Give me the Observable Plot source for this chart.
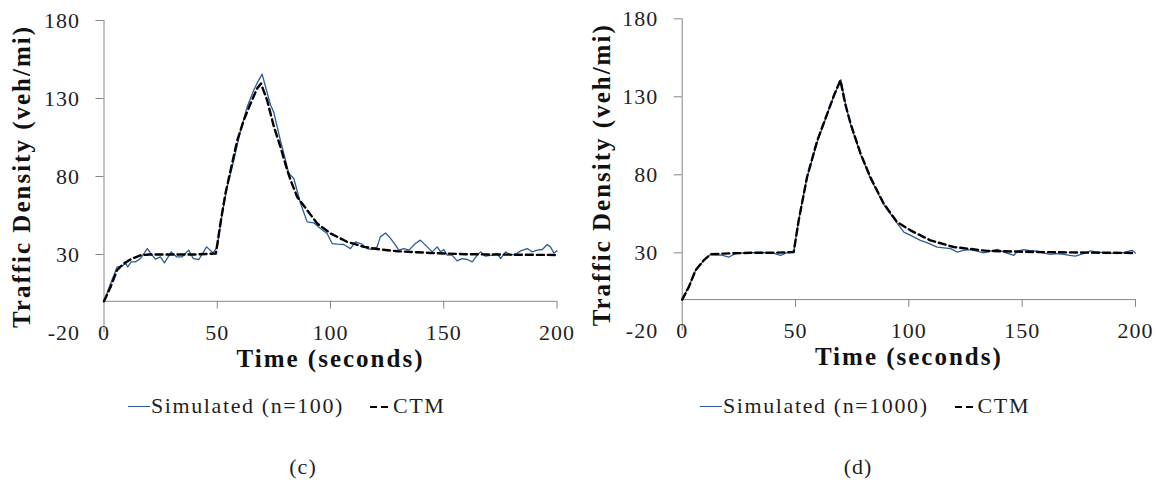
<!DOCTYPE html>
<html>
<head>
<meta charset="utf-8">
<script src="https://cdn.jsdelivr.net/npm/d3@7"></script>
<script src="https://cdn.jsdelivr.net/npm/@observablehq/plot@0.6"></script>
</head>
<body style="margin:0;padding:0;background:#fff">
<div id="root" style="position:relative;width:1163px;height:487px;overflow:hidden;background:#fff;color:#1f1f1f"></div>
<script>
// ---------- data ----------
const xTicks = [0, 50, 100, 150, 200];
const yTicks = [-20, 30, 80, 130, 180];
const xDomain = [0, 200];
const yDomain = [-20, 180];
const xTitle = "Time (seconds)";
const yTitle = "Traffic Density (veh/mi)";
const seriesNamesC = ["Simulated (n=100)", "CTM"];
const seriesNamesD = ["Simulated (n=1000)", "CTM"];
const captions = ["(c)", "(d)"];

// Panel (c): simulated n=100
const simC_t = [0, 2.9, 5.8, 8, 9.5, 10.5, 12, 13.9, 16.1, 19.1, 20.5, 22.7, 24.9, 26.7, 29.7, 32, 34.5, 37.4, 39.4, 41.9, 45.3, 48.2, 50, 52.2, 54.4, 57.3, 60.3, 63.2, 66.1, 68, 69.8, 73.5, 75, 77.9, 79.4, 81.6, 83.8, 86.8, 89.7, 92.6, 95.6, 98.5, 100.7, 103, 105.9, 108.8, 111, 114, 116.2, 118.4, 120.6, 122, 124.3, 126.5, 128.7, 130.1, 132.4, 134.6, 137.5, 139.7, 141.9, 144.9, 147.1, 148.6, 150, 151.5, 153.7, 155.9, 158.1, 160.4, 162.6, 164.8, 166.2, 168.4, 171.4, 173.6, 175.1, 177.3, 179.5, 181.7, 183.9, 186.9, 189.1, 191.3, 193.5, 195.7, 197.1, 198.6, 200];
const simC_v = [0, 11.4, 22, 22.5, 24.6, 22, 25.3, 25.3, 27.4, 33.8, 31, 27, 28.5, 24.6, 31.7, 28.5, 28.5, 32.8, 27.4, 26.8, 34.9, 31, 34.9, 56.3, 73.3, 90.4, 109.7, 124.6, 135.3, 141, 145.6, 126, 121, 103, 94.7, 81.9, 78.7, 62.7, 50.9, 50.3, 46.7, 43.5, 37, 36.6, 36.4, 33.8, 38.1, 36.6, 33.8, 33.2, 34.9, 41.3, 43.8, 40.3, 36, 32.8, 33.8, 32.8, 37, 39.2, 36, 31.7, 34.9, 31.7, 33.2, 29.6, 29.6, 25.9, 27.4, 26.8, 25.3, 29.6, 31.7, 28.9, 29.6, 30.6, 27.4, 31.7, 29.6, 30.2, 32.3, 33.8, 31.7, 32.8, 33.2, 36.4, 34.9, 31, 32.3];

// Panel (c): CTM
const ctmC_t = [0, 2.9, 5.8, 8.7, 12.4, 16.1, 20, 30, 40, 49.4, 51.4, 53.6, 55.9, 58.8, 61.7, 64.7, 67.6, 69.3, 72, 75, 77.9, 80.9, 82.4, 85.3, 89.7, 94.1, 100, 107.4, 114.7, 122, 129.5, 144, 159, 180, 200];
const ctmC_v = [0, 9.2, 20, 24.2, 27.4, 29.5, 30, 30, 30, 30.6, 49.9, 69, 84, 103, 116, 126.8, 136.4, 139.6, 129, 112, 99, 84, 77.6, 66.9, 58.4, 49.9, 43.5, 38.1, 34.9, 33.2, 32.1, 31, 30.2, 29.9, 29.7];

// Panel (d): simulated n=1000
const simD_t = [0, 3, 6, 9.5, 12.5, 15, 17, 20.6, 23.5, 28, 35, 40, 43.4, 46, 49.2, 51.4, 55, 59.6, 64, 67, 70, 72, 74.3, 78.7, 83.1, 88.9, 94.8, 97.8, 101, 105.1, 108, 112.5, 118.4, 121.3, 124, 127.2, 133.1, 136, 139, 142, 146.3, 148, 150.7, 153, 156.6, 159, 162.5, 165, 168.4, 171, 173.5, 177, 180.1, 183, 186, 189, 191.9, 195, 198.5, 200];
const simD_v = [0, 8.5, 19, 25, 29, 28.5, 28.6, 27.3, 29.5, 30, 30.2, 29.8, 28.4, 30, 30.8, 51, 78, 101, 119, 131, 141, 126, 112, 93, 77.5, 61, 49, 43.3, 41, 38, 36.5, 33.7, 32.7, 30.5, 31.5, 32, 29.9, 31, 32.2, 30.5, 28.4, 31, 32, 31.5, 31, 30, 29, 29.5, 29, 28.3, 27.9, 29.5, 31.2, 30.5, 30.1, 29.8, 29.5, 30.2, 31.6, 29.9];

// Panel (d): CTM
const ctmD_t = [0, 2.9, 5.9, 9.5, 12.5, 18.4, 30, 40, 49.2, 51.4, 55.1, 59.6, 64, 67, 69.8, 72, 74.3, 78.7, 83.1, 88.9, 94.8, 100.7, 109.5, 119.8, 134.6, 156.6, 180, 200];
const ctmD_v = [0, 8, 18.8, 25.2, 29, 29.5, 30, 30, 30.5, 50.8, 78.6, 102, 119.2, 131, 140.6, 125, 112.8, 93.6, 78.2, 61.5, 49.7, 44.4, 38, 33.7, 31.2, 30.5, 30.1, 29.9];

// ---------- styles ----------
const axisColor = "#868686";
const simColor = "#2f5b96";
const ctmColor = "#000000";
const FONT = '"Liberation Serif"';

function rows(ts, vs) { return ts.map((t, i) => ({t, v: vs[i]})); }

function panel(sim, ctm, layout) {
  const svg = Plot.plot({
    width: layout.width,
    height: 370,
    marginLeft: layout.ml,
    marginRight: layout.mr,
    marginTop: layout.mt,
    marginBottom: 370 - layout.mt - 312,
    x: {domain: xDomain, axis: null},
    y: {domain: yDomain},
    marks: [
      Plot.ruleY([0], {x1: xDomain[0], x2: xDomain[1], stroke: axisColor, strokeWidth: 1}),
      Plot.ruleX([0], {y1: yDomain[0], y2: yDomain[1], stroke: axisColor, strokeWidth: 1}),
      Plot.ruleX(xTicks.slice(1), {x: d => d, y1: 0, y2: -5, stroke: axisColor}),
      Plot.axisY({ticks: yTicks.filter(v => v > 0), tickSize: 8, tickFormat: () => "", stroke: axisColor, label: null}),
      Plot.axisY({ticks: yTicks, tickSize: 0, tickPadding: 24, tickFormat: d => String(d), label: null, fontSize: 22, fill: "#1f1f1f", className: "ticklab"}),
      Plot.text(xTicks, {x: d => d, y: yDomain[0], text: d => String(d), lineAnchor: "middle", fontSize: 22, fill: "#1f1f1f", className: "ticklab"}),
      Plot.line(sim, {x: "t", y: "v", stroke: simColor, strokeWidth: 1.3}),
      Plot.line(ctm, {x: "t", y: "v", stroke: ctmColor, strokeWidth: 2.4, strokeDasharray: "7,4"}),
      Plot.text([yTitle], {frameAnchor: "left", textAnchor: "middle", lineAnchor: "middle", rotate: -90, dx: -layout.ml + 21, fontSize: 25, fontWeight: "bold", className: "title", fill: "#111"}),
      Plot.text([xTitle], {frameAnchor: "bottom", textAnchor: "middle", lineAnchor: "middle", dy: 26, fontSize: 25, fontWeight: "bold", className: "title", fill: "#111"})
    ]
  });
  svg.style.display = "block";
  svg.style.overflow = "visible";
  svg.style.background = "white";
  svg.setAttribute("font-family", "Liberation Serif");
  svg.style.fontFamily = FONT;
  svg.querySelectorAll("text").forEach(t => { t.style.fontFamily = FONT; t.style.letterSpacing = "1px"; });
  svg.querySelectorAll("g.title text, text.title").forEach(t => { t.style.letterSpacing = "2px"; });
  return svg;
}

const root = document.getElementById("root");

function addPanel(left, sim, ctm, layout, names, legendLeft, caption, captionX) {
  const div = document.createElement("div");
  div.style.position = "absolute";
  div.style.top = "0px";
  div.style.left = left + "px";
  div.appendChild(panel(sim, ctm, layout));
  root.appendChild(div);

  const lg = document.createElement("div");
  Object.assign(lg.style, {position: "absolute", left: legendLeft + "px", top: "393px", fontFamily: FONT,
    fontSize: "22px", letterSpacing: "1.6px", whiteSpace: "nowrap", lineHeight: "26px", color: "#1f1f1f"});
  const s1 = document.createElement("span");
  Object.assign(s1.style, {display: "inline-block", width: "22px", height: "0px", borderTop: "1.4px solid " + simColor,
    verticalAlign: "middle", position: "relative", top: "-1px", marginRight: "1px"});
  const t1 = document.createElement("span"); t1.textContent = names[0];
  t1.style.fontFamily = FONT;
  const s2 = document.createElement("span");
  Object.assign(s2.style, {display: "inline-block", width: "22px", height: "2px", marginLeft: "26px", marginRight: "1px",
    background: "repeating-linear-gradient(90deg, #000 0 7px, transparent 7px 11px)", verticalAlign: "middle", position: "relative", top: "-1px"});
  const t2 = document.createElement("span"); t2.textContent = names[1];
  t2.style.fontFamily = FONT;
  lg.append(s1, t1, s2, t2);
  root.appendChild(lg);

  const cap = document.createElement("div");
  Object.assign(cap.style, {position: "absolute", left: captionX + "px", top: "454px", fontFamily: FONT, fontSize: "22px",
    letterSpacing: "1px", transform: "translateX(-50%)", whiteSpace: "nowrap", color: "#1f1f1f"});
  cap.textContent = caption;
  root.appendChild(cap);
}

addPanel(0, rows(simC_t, simC_v), rows(ctmC_t, ctmC_v),
  {width: 580, ml: 103.5, mr: 23.5, mt: 20}, seriesNamesC, 128, captions[0], 303);
addPanel(580, rows(simD_t, simD_v), rows(ctmD_t, ctmD_v),
  {width: 583, ml: 101.7, mr: 28, mt: 18.3}, seriesNamesD, 700, captions[1], 858);
</script>
</body>
</html>
